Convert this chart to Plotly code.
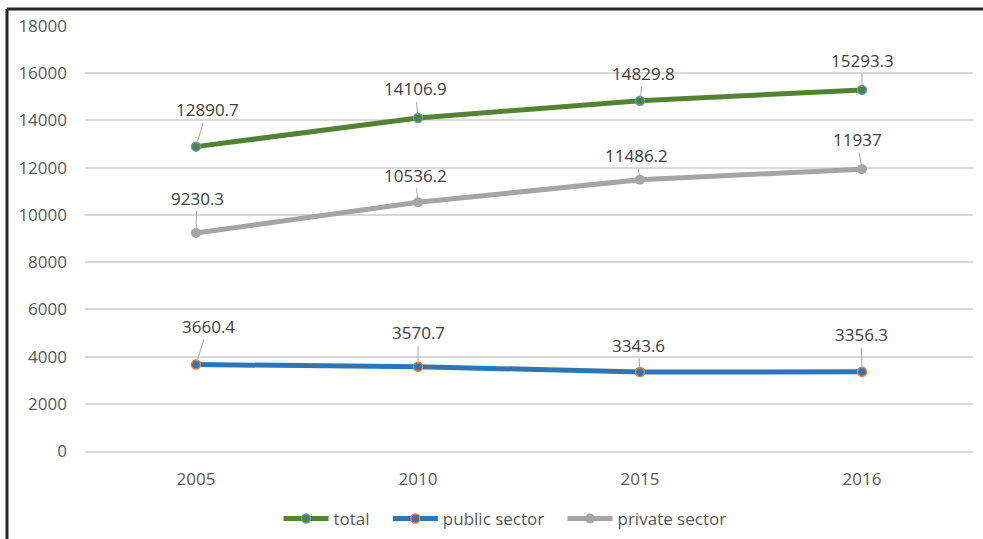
import plotly.graph_objects as go

years = ["2005", "2010", "2015", "2016"]
total = [12890.7, 14106.9, 14829.8, 15293.3]
public_sector = [3660.4, 3570.7, 3343.6, 3356.3]
private_sector = [9230.3, 10536.2, 11486.2, 11937]
series_names = ["total", "public sector", "private sector"]

FONT = "Open Sans"
TXT = "#404040"
PAD = "\u00a0" * 3  # extra legend spacing between entries

# label offsets (pixels) relative to each point
off_total = [(11, -37), (-3, -29), (3, -27), (0, -29)]
off_private = [(1, -35), (-3, -27), (-4, -24), (-5, -30)]
off_public = [(12, -38), (0, -34), (-2, -27), (-1, -37)]

fig = go.Figure()
fig.add_trace(go.Scatter(
    x=years, y=total, name=series_names[0] + PAD, mode="lines+markers",
    line=dict(color="#548235", width=5),
    marker=dict(size=9, color="#548235", line=dict(color="#5B9BD5", width=1.5)),
))
fig.add_trace(go.Scatter(
    x=years, y=public_sector, name=series_names[1] + PAD, mode="lines+markers",
    line=dict(color="#2E75B6", width=5),
    marker=dict(size=9, color="#2E75B6", line=dict(color="#ED7D31", width=1.5)),
))
fig.add_trace(go.Scatter(
    x=years, y=private_sector, name=series_names[2], mode="lines+markers",
    line=dict(color="#A5A5A5", width=5),
    marker=dict(size=10, color="#A5A5A5"),
))

for series, offs in ((total, off_total), (private_sector, off_private), (public_sector, off_public)):
    for i, (v, (dx, dy)) in enumerate(zip(series, offs)):
        fig.add_annotation(
            x=i, y=v, text=f"{v:g}",
            showarrow=True, arrowhead=0, arrowwidth=1, arrowcolor="#A6A6A6",
            ax=dx, ay=dy, standoff=3,
            font=dict(family=FONT, size=17, color=TXT),
        )

L, R, T, B = 85, 10, 26, 88
W, H = 983, 539
pw, ph = W - L - R, H - T - B
bx = (7 - L) / pw
by = 1 + (T - 9) / ph

fig.update_layout(
    width=W, height=H,
    margin=dict(l=L, r=R, t=T, b=B, autoexpand=False),
    paper_bgcolor="white", plot_bgcolor="white",
    font=dict(family=FONT, size=17, color="#595959"),
    showlegend=True,
    legend=dict(orientation="h", x=(505 - L) / pw, xanchor="center",
                y=(451 - 519) / ph, yanchor="middle", itemwidth=45,
                font=dict(family=FONT, size=17, color="#595959"),
                bgcolor="rgba(0,0,0,0)"),
)
fig.add_shape(type="line", xref="paper", yref="paper", x0=bx, x1=bx, y0=by, y1=-0.5,
              line=dict(color="#262626", width=3))
fig.add_shape(type="line", xref="paper", yref="paper", x0=bx, x1=1.2, y0=by, y1=by,
              line=dict(color="#262626", width=3))
fig.update_xaxes(type="category", range=[-0.5, 3.5], showgrid=False,
                 showline=True, linecolor="#D9D9D9", linewidth=1.5,
                 ticks="", tickfont=dict(family=FONT, size=17, color="#595959"),
                 ticklabelstandoff=12)
fig.update_yaxes(range=[0, 18000], dtick=2000, tickformat="d", showgrid=True, gridcolor="#D9D9D9",
                 gridwidth=1.5, zeroline=False, showline=False, ticks="",
                 tickfont=dict(family=FONT, size=17, color="#595959"),
                 ticklabelstandoff=17)

fig.write_html("out.html", config={"displayModeBar": False},
               post_script="document.body.style.margin='0';")
